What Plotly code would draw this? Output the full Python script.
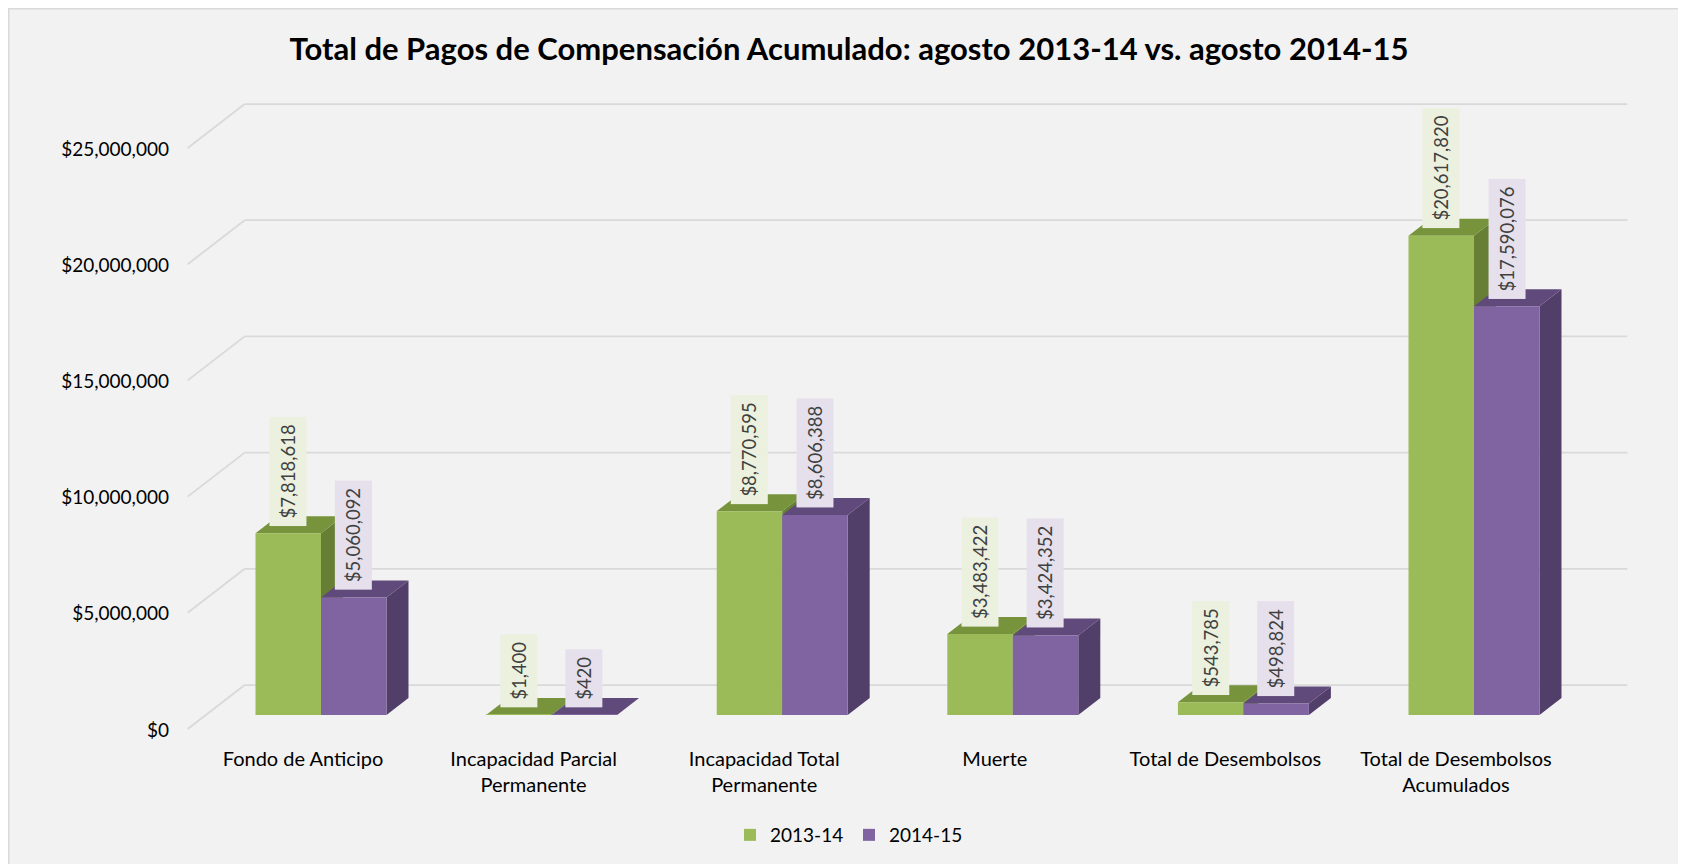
import plotly.graph_objects as go

# ---------------- data ----------------
categories = [
    "Fondo de Anticipo",
    "Incapacidad Parcial<br>Permanente",
    "Incapacidad Total<br>Permanente",
    "Muerte",
    "Total de Desembolsos",
    "Total de Desembolsos<br>Acumulados",
]
series_names = ["2013-14", "2014-15"]
values_2013_14 = [7818618, 1400, 8770595, 3483422, 543785, 20617820]
values_2014_15 = [5060092, 420, 8606388, 3424352, 498824, 17590076]
y_tick_values = [0, 5000000, 10000000, 15000000, 20000000, 25000000]
y_tick_labels = ["$0", "$5,000,000", "$10,000,000", "$15,000,000", "$20,000,000", "$25,000,000"]
title_text = "Total de Pagos de Compensación Acumulado: agosto 2013-14 vs. agosto 2014-15"

# ---------------- style / geometry ----------------
W, H = 1686, 864
OFF = 8                       # page offset of the figure (body margin)
ML, MR, MT, MB = 172, 54, 87, 137
PW, PH = W - ML - MR, H - MT - MB
PX_PER_CAT = 230.6            # pixels per category step
CAT0_PX = 141                 # px from plot left to first category
PX_PER_USD = 23.24e-6         # pixels per dollar
ZERO_PX = 20                  # px from plot bottom to value 0 (bar plane)
x_range = [-CAT0_PX / PX_PER_CAT, (PW - CAT0_PX) / PX_PER_CAT]
y_range = [-ZERO_PX / PX_PER_USD, (PH - ZERO_PX) / PX_PER_USD]


def dxu(px):
    return px / PX_PER_CAT


def dyu(px):
    return px / PX_PER_USD


def fig_px_to_paper_x(px):
    return (px - ML) / PW


def fig_px_to_paper_y(py):
    return (H - MB - py) / PH


BARGAP = 0.432
BW = (1 - BARGAP) / 2
DEPTH_DX, DEPTH_DY = 22, 17
FRONT_DX, FRONT_DY = -18, -14   # front edge of floor relative to bar plane
BACK_DX, BACK_DY = 39, 30       # back wall relative to bar plane

FRONT_COLORS = ["#9bbb59", "#8064a2"]
TOP_COLORS = ["#77933c", "#604a7b"]
SIDE_COLORS = ["#677e35", "#513f6a"]
LABEL_BG = ["#ebf1de", "#e5e0ec"]
GRID = "#d9d9d9"
FONT = "Lato"

series_values = [values_2013_14, values_2014_15]
xs = list(range(len(categories)))

fig = go.Figure()
for s, (name, vals) in enumerate(zip(series_names, series_values)):
    fig.add_trace(go.Bar(
        x=xs, y=vals, name=name,
        marker=dict(color=FRONT_COLORS[s], line=dict(width=0)),
        hoverinfo="skip",
    ))

shapes = []
# chart border
shapes.append(dict(type="rect", xref="paper", yref="paper",
                   x0=fig_px_to_paper_x(0.75), x1=fig_px_to_paper_x(W + 20),
                   y0=fig_px_to_paper_y(0.75), y1=fig_px_to_paper_y(H + 20),
                   fillcolor="rgba(0,0,0,0)", line=dict(color="#d9d9d9", width=1.5),
                   layer="below"))

left_edge = -0.5
right_edge = len(categories) - 0.5
for v in y_tick_values:
    # side wall (diagonal)
    shapes.append(dict(type="line", xref="x", yref="y",
                       x0=left_edge + dxu(FRONT_DX), y0=v + dyu(FRONT_DY),
                       x1=left_edge + dxu(BACK_DX), y1=v + dyu(BACK_DY),
                       line=dict(color=GRID, width=1.75), layer="below"))
    # back wall
    shapes.append(dict(type="line", xref="x", yref="y",
                       x0=left_edge + dxu(BACK_DX), y0=v + dyu(BACK_DY),
                       x1=right_edge + dxu(BACK_DX - 1), y1=v + dyu(BACK_DY),
                       line=dict(color=GRID, width=1.75), layer="below"))

# 3D faces of bars (top and right side), computed from data
ddx, ddy = dxu(DEPTH_DX), dyu(DEPTH_DY)
for i in xs:
    for s, vals in enumerate(series_values):
        v = vals[i]
        left = i - BW + s * BW
        right = left + BW
        side = (f"M {right},{0} L {right},{v} L {right + ddx},{v + ddy} "
                f"L {right + ddx},{ddy} Z")
        top = (f"M {left},{v} L {right},{v} L {right + ddx},{v + ddy} "
               f"L {left + ddx},{v + ddy} Z")
        shapes.append(dict(type="path", xref="x", yref="y", path=side,
                           fillcolor=SIDE_COLORS[s], line=dict(width=0), layer="below"))
        shapes.append(dict(type="path", xref="x", yref="y", path=top,
                           fillcolor=TOP_COLORS[s], line=dict(width=0), layer="below"))

annotations = []
for s, vals in enumerate(series_values):
    for i in xs:
        v = vals[i]
        annotations.append(dict(
            x=i - BW / 2 + s * BW, y=v, xref="x", yref="y",
            text="${:,}".format(v), textangle=-90, showarrow=False,
            xanchor="center", yanchor="bottom", yshift=7,
            bgcolor=LABEL_BG[s], borderpad=7,
            font=dict(family=FONT, size=18.5, color="#404040"),
        ))

fig.update_layout(
    width=W, height=H,
    margin=dict(l=ML, r=MR, t=MT, b=MB, pad=0),
    paper_bgcolor="#f2f2f2",
    plot_bgcolor="rgba(0,0,0,0)",
    barmode="group", bargap=BARGAP, bargroupgap=0,
    title=dict(text=f"<b>{title_text}</b>", x=(849 - OFF) / W, xref="container",
               xanchor="center", y=1 - (49 - OFF) / H, yref="container",
               yanchor="middle",
               font=dict(family=FONT, size=31, color="#000000")),
    xaxis=dict(range=x_range, tickvals=xs, ticktext=categories,
               showgrid=False, zeroline=False, showline=False, ticks="",
               ticklabelshift=-18, ticklabelstandoff=10,
               tickfont=dict(family=FONT, size=20, color="#000000")),
    yaxis=dict(range=y_range, tickvals=y_tick_values, ticktext=y_tick_labels,
               showgrid=False, zeroline=False, showline=False, ticks="",
               ticklabelshift=15, ticklabelstandoff=10,
               tickfont=dict(family=FONT, size=19, color="#000000")),
    legend=dict(orientation="h", x=fig_px_to_paper_x(849 - OFF), xanchor="center",
                y=fig_px_to_paper_y(835 - OFF), yanchor="middle",
                entrywidth=74, itemwidth=30,
                font=dict(family=FONT, size=19, color="#000000"),
                bgcolor="rgba(0,0,0,0)"),
    shapes=shapes,
    annotations=annotations,
    showlegend=True,
)

fig.write_html("out.html")
